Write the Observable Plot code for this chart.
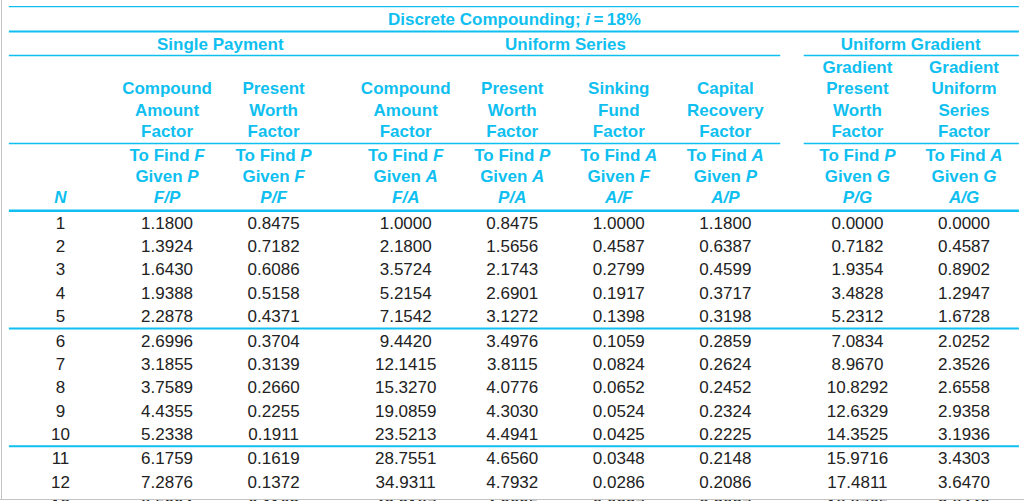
<!DOCTYPE html>
<html>
<head>
<meta charset="utf-8">
<script src="https://cdn.jsdelivr.net/npm/d3@7"></script>
<script src="https://cdn.jsdelivr.net/npm/@observablehq/plot@0.6"></script>
<style>
  html, body { margin: 0; padding: 0; background: #fff; overflow: hidden; }
  #wrap { position: relative; width: 1024px; height: 501px; overflow: hidden; }
  #wrap svg { display: block; overflow: hidden; }
  .edge-left { position: absolute; left: 1px; top: 0; width: 1px; height: 500px; background: #c4c4c4; }
  .edge-bottom { position: absolute; left: 0; top: 499px; width: 1024px; height: 1px; background: #c4c4c4; }
</style>
</head>
<body>
<div id="wrap"><div class="edge-left"></div><div class="edge-bottom"></div></div>
<script>
// ---------- data ----------
const tableTitleLead = "Discrete Compounding; ";
const rateSymbol = "i";
const rateValue = "18%";
const groupTitles = ["Single Payment", "Uniform Series", "Uniform Gradient"];
const columnKeys = ["N", "F/P", "P/F", "F/A", "P/A", "A/F", "A/P", "P/G", "A/G"];
const columnGroup = [0, 0, 0, 1, 1, 1, 1, 2, 2];
const factorNames = [
  ["Compound", "Amount", "Factor"],
  ["Present", "Worth", "Factor"],
  ["Compound", "Amount", "Factor"],
  ["Present", "Worth", "Factor"],
  ["Sinking", "Fund", "Factor"],
  ["Capital", "Recovery", "Factor"],
  ["Gradient", "Present", "Worth", "Factor"],
  ["Gradient", "Uniform", "Series", "Factor"]
];
const findLines = ["To Find F", "To Find P", "To Find F", "To Find P", "To Find A", "To Find A", "To Find P", "To Find A"];
const givenLines = ["Given P", "Given F", "Given A", "Given A", "Given F", "Given P", "Given G", "Given G"];

const rowN  = [1, 2, 3, 4, 5, 6, 7, 8, 9, 10, 11, 12, 13];
const colFP = [1.1800, 1.3924, 1.6430, 1.9388, 2.2878, 2.6996, 3.1855, 3.7589, 4.4355, 5.2338, 6.1759, 7.2876, 8.5994];
const colPF = [0.8475, 0.7182, 0.6086, 0.5158, 0.4371, 0.3704, 0.3139, 0.2660, 0.2255, 0.1911, 0.1619, 0.1372, 0.1163];
const colFA = [1.0000, 2.1800, 3.5724, 5.2154, 7.1542, 9.4420, 12.1415, 15.3270, 19.0859, 23.5213, 28.7551, 34.9311, 42.2187];
const colPA = [0.8475, 1.5656, 2.1743, 2.6901, 3.1272, 3.4976, 3.8115, 4.0776, 4.3030, 4.4941, 4.6560, 4.7932, 4.9095];
const colAF = [1.0000, 0.4587, 0.2799, 0.1917, 0.1398, 0.1059, 0.0824, 0.0652, 0.0524, 0.0425, 0.0348, 0.0286, 0.0237];
const colAP = [1.1800, 0.6387, 0.4599, 0.3717, 0.3198, 0.2859, 0.2624, 0.2452, 0.2324, 0.2225, 0.2148, 0.2086, 0.2037];
const colPG = [0.0000, 0.7182, 1.9354, 3.4828, 5.2312, 7.0834, 8.9670, 10.8292, 12.6329, 14.3525, 15.9716, 17.4811, 18.8765];
const colAG = [0.0000, 0.4587, 0.8902, 1.2947, 1.6728, 2.0252, 2.3526, 2.6558, 2.9358, 3.1936, 3.4303, 3.6470, 3.8449];

// ---------- layout helpers (logical units) ----------
const groupGap = 0.24;
const slot = columnKeys.map((k, i) => i + groupGap * columnGroup[i]);
const rowPos = n => n + 0.03 * Math.floor((n - 1) / 5);
const lineStep = 0.9;
const yRatio = -0.07, yGiven = yRatio - lineStep, yFind = yGiven - lineStep;
const yFactor = -2.92, yGroup = -6.63, yTitle = -7.70;
const xLeft = slot[0] - 0.48, xRight = slot[8] + 0.52;
const xSeriesEnd = slot[6] + 0.52, xGradStart = slot[7] - 0.5;

const valueCols = [colFP, colPF, colFA, colPA, colAF, colAP, colPG, colAG];
const cells = [];
rowN.forEach((n, r) => {
  cells.push({x: slot[0], y: rowPos(n), t: String(n)});
  valueCols.forEach((col, c) => cells.push({x: slot[c + 1], y: rowPos(n), t: col[r].toFixed(4)}));
});

const factorText = factorNames.flatMap((lines, c) =>
  lines.map((s, j) => ({x: slot[c + 1], y: yFactor - (lines.length - 1 - j) * lineStep, t: s})));
const findText = findLines.map((s, c) => ({x: slot[c + 1], y: yFind, t: s}))
  .concat(givenLines.map((s, c) => ({x: slot[c + 1], y: yGiven, t: s})));
const ratioText = columnKeys.map((s, c) => ({x: slot[c], y: yRatio, t: s}));
const groupText = [
  {x: (slot[1] + slot[2]) / 2, y: yGroup, t: groupTitles[0]},
  {x: (slot[3] + slot[6]) / 2, y: yGroup, t: groupTitles[1]},
  {x: (slot[7] + slot[8]) / 2, y: yGroup, t: groupTitles[2]}
];
const titleText = [{x: (xLeft + xRight) / 2, y: yTitle, t: `${tableTitleLead}${rateSymbol}\u2009=\u2009${rateValue}`}];

const fullRules1 = [{y: -8.21}];
const fullRules2 = [{y: -7.14}, {y: (rowPos(5) + rowPos(6)) / 2}, {y: (rowPos(10) + rowPos(11)) / 2}];
const splitRules = [-6.12, -2.37].flatMap(y => [{y, x1: xLeft, x2: xSeriesEnd}, {y, x1: xGradStart, x2: xRight}]);
const thickRule = [{y: 0.5}];

const cyan = "#0fbff0";
const ink = "#222222";
const hdr = {x: "x", y: "y", text: "t", fill: cyan, fontWeight: "bold", fontSize: 17, dy: 0.6};

const chart = Plot.plot({
  width: 1024,
  height: 501,
  margin: 0,
  style: {fontFamily: "'Liberation Sans', Arial, sans-serif", background: "#fff"},
  x: {domain: [0, slot[8]], range: [60, 963.5], axis: null},
  y: {domain: [1, 13], range: [222, 222 + 12 * 23.45], axis: null},
  marks: [
    Plot.ruleY(fullRules1, {y: "y", x1: () => xLeft, x2: () => xRight, stroke: cyan, strokeWidth: 1.2}),
    Plot.ruleY(fullRules2, {y: "y", x1: () => xLeft, x2: () => xRight, stroke: cyan, strokeWidth: 2}),
    Plot.ruleY(splitRules, {y: "y", x1: "x1", x2: "x2", stroke: cyan, strokeWidth: 1.5}),
    Plot.ruleY(thickRule, {y: "y", x1: () => xLeft, x2: () => xRight, stroke: cyan, strokeWidth: 2.6}),
    Plot.text(titleText, {...hdr}),
    Plot.text(groupText, {...hdr}),
    Plot.text(factorText, {...hdr}),
    Plot.text(findText, {...hdr}),
    Plot.text(ratioText, {...hdr, fontStyle: "italic"}),
    Plot.text(cells, {x: "x", y: "y", text: "t", fill: ink, fontSize: 17, dy: 0.6})
  ]
});

// italic variable letters inside mixed header lines
const svgNS = "http://www.w3.org/2000/svg";
const findSet = new Set(findLines.concat(givenLines));
const titleFull = titleText[0].t;
chart.querySelectorAll("text").forEach(el => {
  const s = el.textContent;
  if (findSet.has(s)) {
    const k = s.lastIndexOf(" ");
    el.textContent = s.slice(0, k + 1);
    const ts = document.createElementNS(svgNS, "tspan");
    ts.setAttribute("font-style", "italic");
    ts.style.fontStyle = "italic";
    ts.textContent = s.slice(k + 1);
    el.appendChild(ts);
  } else if (s === titleFull) {
    const k = tableTitleLead.length;
    el.textContent = s.slice(0, k);
    const ts = document.createElementNS(svgNS, "tspan");
    ts.setAttribute("font-style", "italic");
    ts.style.fontStyle = "italic";
    ts.textContent = s.slice(k, k + rateSymbol.length);
    el.appendChild(ts);
    el.appendChild(document.createTextNode(s.slice(k + rateSymbol.length)));
  }
});

document.getElementById("wrap").prepend(chart);
</script>
</body>
</html>
